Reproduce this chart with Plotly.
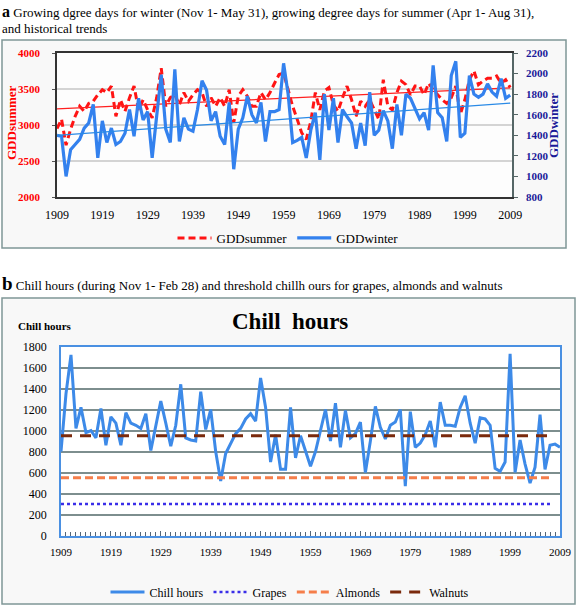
import plotly.graph_objects as go

years = list(range(1909, 2010))
decade_ticks = list(range(1909, 2010, 10))

gdd_summer = [2950, 3080, 2720, 2940, 3120, 3260, 3190, 3300, 3330, 3420,
              3490, 3450, 3540, 3120, 3350, 3190, 3380, 3540, 3210, 3350,
              3210, 3100, 3380, 3790, 3260, 3380, 3420, 3280, 3450, 3330,
              3420, 3490, 3450, 3260, 3380, 3260, 3380, 3260, 3490, 3030,
              3400, 3490, 3400, 3260, 3260, 3450, 3350, 3450, 3580, 3700,
              3720, 3490, 3260, 3080, 2890, 2800, 3050, 3450, 3210, 3470,
              3520, 3280, 3190, 3380, 3540, 3350, 3120, 3330, 3260, 3350,
              3210, 3080, 3630, 3260, 3210, 3450, 3610, 3560, 3420, 3540,
              3540, 3420, 3580, 3490, 3420, 3350, 3300, 3380, 3540, 3150,
              3350, 3630, 3750, 3560, 3610, 3650, 3650, 3680, 3580, 3630,
              3520]

gdd_winter = [1400, 1390, 1000, 1260, 1310, 1360, 1470, 1520, 1700, 1180,
              1540, 1330, 1470, 1310, 1340, 1420, 1650, 1390, 1760, 1550,
              1630, 1180, 1590, 1990, 1460, 1330, 2040, 1340, 1570, 1460,
              1440, 1650, 1930, 1840, 1540, 1630, 1390, 1310, 1720, 1070,
              1460, 1570, 1780, 1600, 1520, 1720, 1340, 1630, 1630, 1650,
              2100, 1800, 1330, 1350, 1380, 1180, 1450, 1620, 1160, 1800,
              1450, 1760, 1330, 1650, 1580, 1520, 1270, 1520, 1300, 1820,
              1400, 1450, 1640, 1540, 1270, 1700, 1400, 1800, 1760, 1650,
              1560, 1620, 1450, 2080, 1620, 1570, 1340, 1980, 2120, 1380,
              1420, 1980, 1800, 1770, 1800, 1900, 1820, 1780, 1950, 1760,
              1790]

trend_years = [1909, 2009]
summer_trend = [3225, 3515]
winter_trend = [1400, 1713]

chill_hours = [800, 1350, 1720, 1020, 1220, 980, 1000, 930, 1210, 860,
               1130, 1070, 860, 1170, 1070, 1050, 1020, 1160, 810, 1050,
               1280, 1070, 850, 1050, 1440, 930, 910, 900, 1370, 1010,
               1200, 800, 520, 780, 870, 970, 1020, 1110, 1160, 1090,
               1500, 1220, 700, 960, 630, 630, 1220, 740, 950, 800,
               660, 800, 1000, 1200, 900, 1260, 840, 1190, 930, 970,
               1080, 600, 900, 1230, 1030, 920, 1050, 1080, 1200, 470,
               1180, 840, 880, 960, 1090, 840, 1270, 1050, 1050, 1040,
               1220, 1330, 1070, 880, 1120, 1110, 1050, 640, 610, 700,
               1730, 600, 910, 680, 500, 650, 1150, 630, 860, 870,
               840]

threshold_years = [1909, 2007]
grapes = 300
almonds = 550
walnuts = 950

W, H = 576, 605
SERIF = "Liberation Serif"


def px(x):
    return x / W


def py(y):
    return 1 - y / H


fig = go.Figure()

# Panel a
fig.add_trace(go.Scatter(x=years, y=gdd_summer, mode="lines", name="GDDsummer",
                         line=dict(color="#FF1414", width=3, dash="7px,4px"),
                         xaxis="x", yaxis="y", legend="legend"))
fig.add_trace(go.Scatter(x=years, y=gdd_winter, mode="lines", name="GDDwinter",
                         line=dict(color="#3381EE", width=3.2),
                         xaxis="x", yaxis="y2", legend="legend"))
fig.add_trace(go.Scatter(x=trend_years, y=summer_trend, mode="lines", showlegend=False,
                         line=dict(color="#FF2020", width=1.3), xaxis="x", yaxis="y"))
fig.add_trace(go.Scatter(x=trend_years, y=winter_trend, mode="lines", showlegend=False,
                         line=dict(color="#2A8AE6", width=1.3), xaxis="x", yaxis="y2"))

# Panel b
fig.add_trace(go.Scatter(x=years, y=chill_hours, mode="lines", name="Chill hours",
                         line=dict(color="#3D8AE8", width=3),
                         xaxis="x2", yaxis="y3", legend="legend2"))
fig.add_trace(go.Scatter(x=threshold_years, y=[grapes] * 2, mode="lines", name="Grapes",
                         line=dict(color="#3A2EE8", width=2.6, dash="dot"),
                         xaxis="x2", yaxis="y3", legend="legend2"))
fig.add_trace(go.Scatter(x=threshold_years, y=[almonds] * 2, mode="lines", name="Almonds",
                         line=dict(color="#F57E4A", width=3, dash="8px,4px"),
                         xaxis="x2", yaxis="y3", legend="legend2"))
fig.add_trace(go.Scatter(x=threshold_years, y=[walnuts] * 2, mode="lines", name="Walnuts",
                         line=dict(color="#7A2A0C", width=3, dash="11px,8px"),
                         xaxis="x2", yaxis="y3", legend="legend2"))

shapes = [
    dict(type="rect", xref="paper", yref="paper", x0=px(2), x1=px(566), y0=py(248), y1=py(40),
         line=dict(color="#7F9696", width=1.5), fillcolor="#F8F8F8", layer="below"),
    dict(type="rect", xref="paper", yref="paper", x0=px(57), x1=px(512), y0=py(197), y1=py(53),
         line=dict(width=0), fillcolor="#FDFDFD", layer="below"),
    dict(type="rect", xref="paper", yref="paper", x0=px(2), x1=px(575), y0=py(604), y1=py(298),
         line=dict(color="#7F9696", width=1.5), fillcolor="#F8F8F8", layer="below"),
    dict(type="rect", xref="paper", yref="paper", x0=px(61), x1=px(560), y0=py(535.5), y1=py(346.5),
         line=dict(width=0), fillcolor="#FFFFFF", layer="below"),
]

annotations = [
    dict(text="<b><span style='font-size:16px'>a</span></b> Growing dgree days for winter (Nov 1- May 31), growing degree days for summer (Apr 1- Aug 31),",
         x=px(0), y=py(11), xref="paper", yref="paper", xanchor="left", yanchor="middle",
         showarrow=False, font=dict(family=SERIF, size=13, color="black")),
    dict(text="and historical trends", x=px(0), y=py(29), xref="paper", yref="paper",
         xanchor="left", yanchor="middle", showarrow=False,
         font=dict(family=SERIF, size=13, color="black")),
    dict(text="GDDsummer", x=px(12), y=py(123), xref="paper", yref="paper", textangle=-90,
         xanchor="center", yanchor="middle", showarrow=False,
         font=dict(family=SERIF, size=13, color="#FF0000", weight="bold")),
    dict(text="GDDwinter", x=px(553), y=py(126), xref="paper", yref="paper", textangle=-90,
         xanchor="center", yanchor="middle", showarrow=False,
         font=dict(family=SERIF, size=13, color="#1A1A99", weight="bold")),
    dict(text="<b><span style='font-size:19px'>b</span></b> Chill hours (during Nov 1- Feb 28) and threshold chillh ours for grapes, almonds and walnuts",
         x=px(0), y=py(283), xref="paper", yref="paper", xanchor="left", yanchor="middle",
         showarrow=False, font=dict(family=SERIF, size=13, color="black")),
    dict(text="Chill\u00a0 hours", x=px(290), y=py(321), xref="paper", yref="paper",
         xanchor="center", yanchor="middle", showarrow=False,
         font=dict(family=SERIF, size=23, color="black", weight="bold")),
    dict(text="Chill hours", x=px(16), y=py(326), xref="paper", yref="paper",
         xanchor="left", yanchor="middle", showarrow=False,
         font=dict(family=SERIF, size=11, color="black", weight="bold")),
]

fig.update_layout(
    width=W, height=H,
    margin=dict(l=0, r=0, t=0, b=0, autoexpand=False),
    paper_bgcolor="white",
    plot_bgcolor="rgba(0,0,0,0)",
    font=dict(family=SERIF, color="black"),
    shapes=shapes,
    annotations=annotations,
    xaxis=dict(domain=[px(57), px(512)], range=[1909, 2009.4], anchor="y", automargin=False,
               tickvals=decade_ticks, ticks="", showgrid=False, zeroline=False,
               showline=True, linecolor="#333333", linewidth=1.5, mirror=True,
               tickfont=dict(family=SERIF, size=12, color="black"), ticklabelstandoff=6),
    yaxis=dict(domain=[py(197), py(53)], range=[2000, 4000], dtick=500, anchor="x", automargin=False,
               showgrid=True, gridcolor="#D4D4D4", gridwidth=2, zeroline=False,
               showline=True, linecolor="#333333", linewidth=1.5,
               ticks="outside", ticklen=3, tickcolor="#555555", ticklabelstandoff=10,
               tickfont=dict(family=SERIF, size=11, color="#FF0000", weight="bold")),
    yaxis2=dict(overlaying="y", side="right", range=[800, 2200], dtick=200, anchor="x", automargin=False,
                showgrid=False, zeroline=False, showline=True, linecolor="#556666", linewidth=1.5,
                ticks="outside", ticklen=4, tickcolor="#556666", ticklabelstandoff=6,
                tickfont=dict(family=SERIF, size=11, color="#1A1A99", weight="bold")),
    xaxis2=dict(domain=[px(61), px(560)], range=[1909, 2009], anchor="y3", automargin=False,
                tickvals=decade_ticks, ticks="inside", ticklen=5, tickcolor="#556677",
                minor=dict(dtick=1, tick0=1909, ticks="inside", ticklen=4, tickcolor="#556677"),
                showgrid=False, zeroline=False,
                showline=True, linecolor="#4A90E2", linewidth=1.5, mirror=True,
                tickfont=dict(family=SERIF, size=11, color="black"), ticklabelstandoff=6),
    yaxis3=dict(domain=[py(535.5), py(346.5)], range=[0, 1800], dtick=200, anchor="x2", automargin=False,
                showgrid=True, gridcolor="#7D8E8E", gridwidth=1.5, zeroline=False,
                showline=True, linecolor="#4A90E2", linewidth=1.5, mirror=True,
                ticks="", ticklabelstandoff=10,
                tickfont=dict(family=SERIF, size=12, color="black")),
    legend=dict(orientation="h", x=px(288), y=py(238), xanchor="center", yanchor="middle",
                bgcolor="rgba(0,0,0,0)", font=dict(family=SERIF, size=13, color="black"),
                itemwidth=34, tracegroupgap=0),
    legend2=dict(orientation="h", x=px(290), y=py(592), xanchor="center", yanchor="middle",
                 bgcolor="rgba(0,0,0,0)", font=dict(family=SERIF, size=12, color="black"),
                 itemwidth=34),
)

fig.write_html("out.html",
               config={"displayModeBar": False},
               post_script="document.body.style.margin='0px';document.body.style.overflow='hidden';")
